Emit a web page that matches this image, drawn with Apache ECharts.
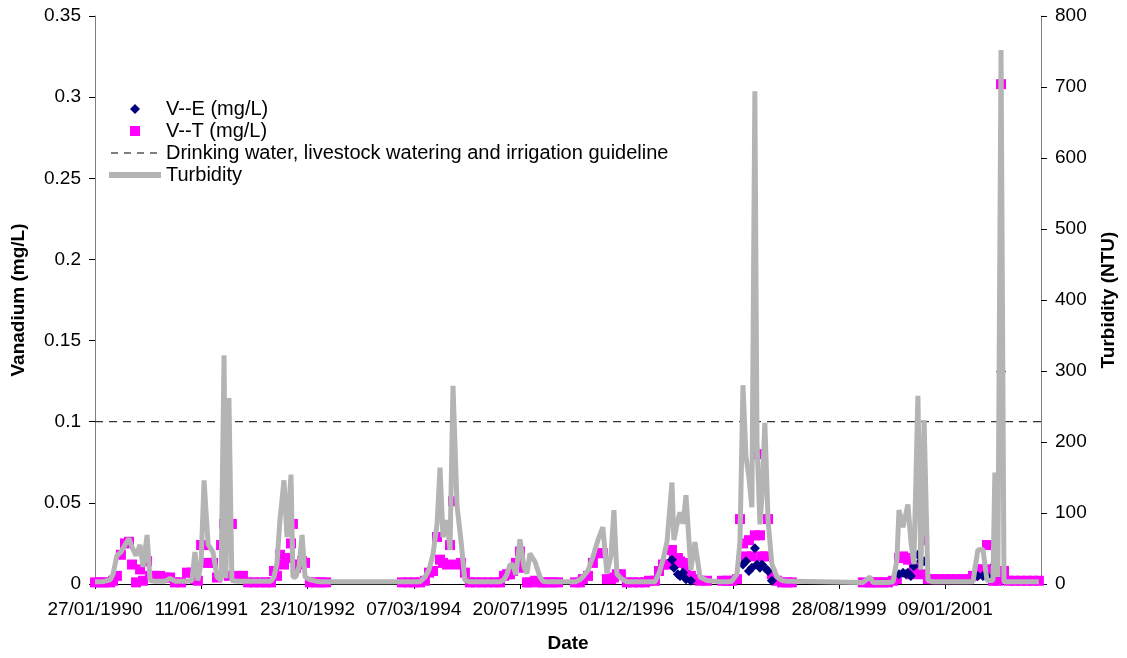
<!DOCTYPE html>
<html>
<head>
<meta charset="utf-8">
<title>Vanadium and turbidity</title>
<script src="https://cdn.jsdelivr.net/npm/echarts@6/dist/echarts.min.js"></script>
<style>
  html, body { margin: 0; padding: 0; background: #fff; }
  #chart { width: 1127px; height: 658px; }
</style>
</head>
<body>
<div id="chart"></div>
<script>
// dates are kept as days counted from 27/01/1990 (the first axis label)
const baseDate = Date.UTC(1990, 0, 27)
const xTickDays = [0, 500, 1000, 1500, 2000, 2500, 3000, 3500, 4000]
const xMaxDay = 4450

// sampling dates
const sampleDays = [
  // 1990 - 1992
  0, 24, 47, 71, 85, 103, 122, 141, 160, 174, 193, 212, 226, 245, 259, 282, 306, 329, 353, 376,
  405, 433, 456, 470, 484, 499, 513, 532, 555, 574, 593, 607, 616, 630, 644, 668, 696, 720, 748, 776,
  804, 828, 842, 856, 870, 889, 903, 922, 931, 945, 960, 974, 988, 1011, 1040, 1063, 1087,
  // 1994 - 1995
  1444, 1472, 1500, 1529, 1552, 1571, 1590, 1609, 1623, 1637, 1656, 1670, 1684, 1703, 1722,
  1740, 1764, 1792, 1820, 1849, 1877, 1905, 1924, 1938, 1952, 1966, 1980, 1999, 2018, 2032,
  2046, 2070, 2093, 2107, 2131, 2154, 2178,
  // 1996 - 1997
  2258, 2281, 2295, 2319, 2342, 2366, 2389, 2408, 2427, 2441, 2455, 2474, 2502, 2531, 2559,
  2587, 2606, 2634, 2653, 2672, 2691, 2714, 2723, 2742, 2752, 2766, 2780, 2803, 2822, 2846, 2879,
  // 1998
  2949, 2973, 2996, 3020, 3034, 3048, 3062, 3076, 3090, 3104, 3114, 3128, 3137, 3151, 3166,
  3184, 3208, 3232, 3255, 3278,
  // 2000 - 2002
  3612, 3645, 3660, 3683, 3707, 3730, 3754, 3772, 3782, 3801, 3815, 3824, 3838, 3852, 3871,
  3885, 3900, 3918, 3942, 3970, 3998, 4026, 4055, 4083, 4111, 4130, 4153, 4177, 4196, 4210,
  4224, 4233, 4247, 4262, 4276, 4299, 4327, 4356, 4384, 4412, 4440
]

// Turbidity (NTU)
const turbidity = [
  3, 3, 4, 6, 14, 40, 45, 55, 64, 52, 40, 55, 24, 69, 5, 4, 4, 4, 8, 4,
  4, 4, 5, 45, 5, 30, 146, 56, 45, 10, 5, 322, 8, 262, 5, 4, 4, 4, 4, 4,
  4, 4, 10, 29, 90, 146, 66, 154, 10, 10, 25, 69, 10, 6, 4, 3, 3,
  3, 3, 3, 3, 10, 20, 42, 84, 164, 66, 90, 48, 279, 110, 60,
  5, 3, 3, 3, 3, 3, 3, 6, 14, 27, 27, 13, 63, 24, 15,
  43, 31, 10, 4, 3, 3, 3,
  3, 6, 10, 19, 38, 62, 80, 15, 40, 104, 14, 8, 3, 3, 3,
  3, 3, 3, 15, 34, 60, 143, 62, 90, 101, 85, 125, 20, 59, 10, 5,
  3, 3, 4, 14, 60, 280, 180, 150, 108, 694, 200, 84, 120, 227, 90,
  28, 10, 5, 4, 4,
  2, 10, 2, 2, 2, 2, 3, 34, 104, 80, 100, 112, 60, 28, 265,
  20, 231, 5, 3, 3, 3, 3, 3, 3, 3, 3, 48, 49, 5, 5,
  5, 157, 10, 752, 3, 3, 3, 3, 3, 3, 3
]

// V--T (mg/L)
const vanadiumTotal = [
  .001, .001, .001, .001, .002, .005, .018, .025, .026, .012, .001, .009, .002, .014, .005, .005, .005, .004, .004, .001,
  .001, .007, .007, .003, .002, .024, .024, .013, .013, .004, .024, .037, .026, .005, .037, .005, .005, .001, .001, .001,
  .001, .001, .008, .005, .018, .012, .016, .025, .037, .01, .012, .014, .013, .001, .001, .001, .001,
  .001, .001, .001, .001, .002, .007, .008, .029, .015, .013, .012, .024, .051, .012, .013,
  .007, .001, .001, .001, .001, .001, .001, .005, .006, .006, .008, .013, .02, .01, .001,
  .001, .002, .001, .001, .001, .001, .001,
  .001, .001, .003, .005, .013, .019, .019, .003, .003, .004, .006, .006, .001, .001, .001,
  .001, .002, .002, .008, .012, .012, .021, .015, .016, .014, .013, .008, .005, .003, .002, .002,
  .002, .002, .002, .003, .04, .025, .017, .027, .017, .03, .08, .03, .017, .017, .04,
  .006, .002, .001, .001, .001,
  .001, .001, .001, .001, .001, .001, .002, .003, .016, .017, .016, .015, .006, .01, .01,
  .006, .027, .003, .003, .003, .003, .003, .003, .003, .003, .005, .009, .009, .024, .009,
  .002, .009, .002, .308, .008, .002, .002, .002, .002, .002, .002
]

// V--E (mg/L), null where no diamond shows
const vanadiumExtract = [
  null, null, null, null, null, null, null, null, null, null, null, null, null, null, null, null, null, null, null, null,
  null, null, null, null, null, null, null, null, null, null, null, null, null, null, null, null, null, null, null, null,
  null, null, null, null, null, null, null, null, null, null, null, null, null, null, null, null, null,
  null, null, null, null, null, null, null, null, null, null, null, null, null, null, null,
  null, null, null, null, null, null, null, null, null, null, null, null, null, null, null,
  null, null, null, null, null, null, null,
  null, null, null, null, null, null, null, null, null, null, null, null, null, null, null,
  null, null, null, null, null, null, .015, .01, .006, .005, .007, .003, .002, null, null, null,
  null, null, null, null, null, .012, .014, .008, .01, .022, .012, .01, .012, .01, .008,
  .002, null, null, null, null,
  null, null, null, null, null, null, null, null, .006, .007, .006, .007, .005, .011, .018,
  .014, .014, null, null, null, null, null, null, null, null, null, .005, .005, .005, null,
  null, .012, null, .131, null, null, null, null, null, null, null
]

const guidelineValue = 0.1

const nameVE = 'V--E (mg/L)'
const nameVT = 'V--T (mg/L)'
const nameGuide = 'Drinking water, livestock watering and irrigation guideline'
const nameTurb = 'Turbidity'

function pairs(values) {
  const out = []
  values.forEach((v, i) => {
    if (v !== null) out.push([sampleDays[i], v])
  })
  return out
}

function dayLabel(day) {
  const d = new Date(baseDate + day * 86400000)
  const dd = String(d.getUTCDate()).padStart(2, '0')
  const mm = String(d.getUTCMonth() + 1).padStart(2, '0')
  return dd + '/' + mm + '/' + d.getUTCFullYear()
}

const font = 'Liberation Sans, Arial, sans-serif'
const myChart = echarts.init(document.getElementById('chart'), null, { renderer: 'canvas' })

// legend marks drawn inside a 52 x 10 box so nothing gets stretched
const diamondIcon = 'path://M0,0M52,10M26,-0.5L31.5,5L26,10.5L20.5,5Z'
const squareIcon = 'path://M0,0M52,10M21,0L31,0L31,10L21,10Z'
const dashIcon = 'path://M0,0M52,10M2,4.5h7v1h-7zM15,4.5h7v1h-7zM28,4.5h7v1h-7zM41,4.5h7v1h-7z'
const barIcon = 'path://M0,0M52,10M0,2h52v6h-52z'

myChart.setOption({
  animation: false,
  backgroundColor: '#fff',
  textStyle: { fontFamily: font, color: '#000' },
  grid: { left: 95, right: 86, top: 16, bottom: 71 },
  legend: {
    orient: 'vertical',
    left: 104,
    top: 94,
    itemWidth: 52,
    itemHeight: 10,
    itemGap: 2,
    symbolKeepAspect: true,
    textStyle: { fontSize: 20, color: '#000', lineHeight: 20 },
    data: [
      { name: nameVE, icon: diamondIcon },
      { name: nameVT, icon: squareIcon },
      { name: nameGuide, icon: dashIcon, itemStyle: { color: '#000', borderWidth: 0 } },
      { name: nameTurb, icon: barIcon, itemStyle: { color: '#b4b4b4', borderWidth: 0 } }
    ]
  },
  xAxis: {
    type: 'value',
    min: 0,
    max: xMaxDay,
    interval: 500,
    name: 'Date',
    nameLocation: 'middle',
    nameGap: 50,
    nameTextStyle: { fontSize: 19, fontWeight: 'bold', color: '#000' },
    splitLine: { show: false },
    axisLine: { onZero: false, lineStyle: { color: '#000', width: 1 } },
    axisTick: { length: 5, lineStyle: { color: '#000' }, customValues: xTickDays },
    axisLabel: {
      fontSize: 19,
      color: '#000',
      margin: 16,
      customValues: xTickDays,
      formatter: v => (v % 500 === 0 ? dayLabel(v) : '')
    }
  },
  yAxis: [
    {
      type: 'value',
      position: 'left',
      min: 0,
      max: 0.35,
      interval: 0.05,
      name: 'Vanadium (mg/L)',
      nameLocation: 'middle',
      nameGap: 67,
      nameTextStyle: { fontSize: 19, fontWeight: 'bold', color: '#000' },
      splitLine: { show: false },
      axisLine: { show: true, lineStyle: { color: '#808080', width: 1 } },
      axisTick: { show: true, length: 6, lineStyle: { color: '#000' } },
      axisLabel: { fontSize: 19, color: '#000', margin: 14 }
    },
    {
      type: 'value',
      position: 'right',
      min: 0,
      max: 800,
      interval: 100,
      name: 'Turbidity (NTU)',
      nameLocation: 'middle',
      nameGap: 58,
      nameTextStyle: { fontSize: 19, fontWeight: 'bold', color: '#000' },
      splitLine: { show: false },
      axisLine: { show: true, lineStyle: { color: '#808080', width: 1 } },
      axisTick: { show: true, length: 6, lineStyle: { color: '#000' } },
      axisLabel: { fontSize: 19, color: '#000', margin: 14 }
    }
  ],
  series: [
    {
      name: nameVT,
      type: 'scatter',
      symbol: 'rect',
      symbolSize: 10,
      itemStyle: { color: '#ff00ff', opacity: 1 },
      z: 2,
      data: pairs(vanadiumTotal)
    },
    {
      name: nameVE,
      type: 'scatter',
      symbol: 'diamond',
      symbolSize: 10,
      itemStyle: { color: '#000080', opacity: 1 },
      z: 3,
      data: pairs(vanadiumExtract)
    },
    {
      name: nameGuide,
      type: 'line',
      symbol: 'none',
      lineStyle: { color: '#000', width: 1, type: [8, 6] },
      itemStyle: { color: '#000' },
      z: 4,
      data: [[0, guidelineValue], [xMaxDay, guidelineValue]]
    },
    {
      name: nameTurb,
      type: 'line',
      yAxisIndex: 1,
      symbol: 'none',
      lineStyle: { color: '#b4b4b4', width: 5 },
      itemStyle: { color: '#b4b4b4' },
      z: 5,
      data: turbidity.map((t, i) => [sampleDays[i], t])
    }
  ]
})

window.addEventListener('resize', () => {
  myChart && myChart.resize()
})
</script>
</body>
</html>
